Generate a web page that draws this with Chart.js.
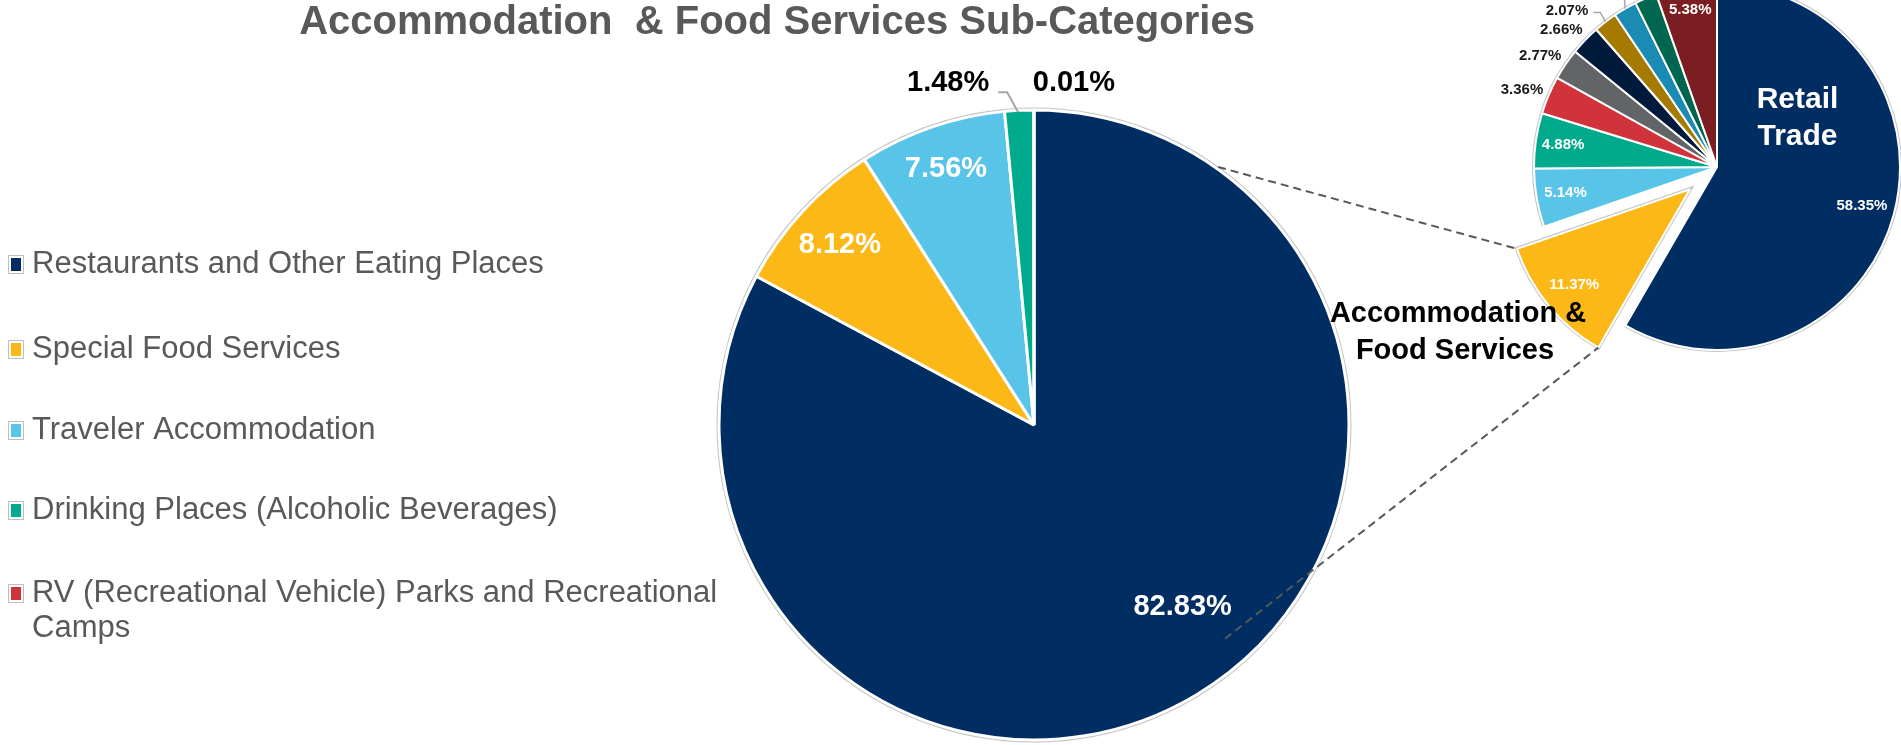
<!DOCTYPE html>
<html><head><meta charset="utf-8">
<script src="https://cdn.jsdelivr.net/npm/chart.js@4.4.1/dist/chart.umd.min.js"></script>
<style>
html,body{margin:0;padding:0;background:#fff;}
#wrap{position:relative;width:1901px;height:745px;overflow:hidden;background:#fff;}
#small{position:absolute;left:1417px;top:-133px;width:600px;height:600px;z-index:1;}
#main{position:absolute;left:0;top:0;width:1901px;height:745px;z-index:2;}
</style></head><body>
<div id="wrap"><canvas id="small" width="600" height="600"></canvas><canvas id="main" width="1901" height="745"></canvas></div>
<script>
const FONT = "'Liberation Sans', Arial, Helvetica, sans-serif";
const titleText = 'Accommodation  & Food Services Sub-Categories';

// Main pie: sub-categories of Accommodation & Food Services
const subCategories = ['Restaurants and Other Eating Places', 'Special Food Services', 'Traveler Accommodation', 'Drinking Places (Alcoholic Beverages)', 'RV (Recreational Vehicle) Parks and Recreational Camps'];
const subShares = [82.83, 8.12, 7.56, 1.48, 0.01];
const subColors = ['#002D62', '#FBB817', '#57C4E8', '#00AA8D', '#D0343A'];

// Small pie: sectors
const sectors = ['Retail Trade', 'Accommodation & Food Services', 'Sector C', 'Sector D', 'Sector E', 'Sector F', 'Sector G', 'Sector H', 'Sector I', 'Sector J', 'Sector K'];
const sectorShares = [58.35, 11.37, 5.14, 4.88, 3.36, 2.77, 2.66, 2.07, 2.06, 1.96, 5.38];
const sectorColors = ['#002D62', '#FBB817', '#57C4E8', '#00AA8D', '#D0343A', '#636466', '#001A3B', '#A67900', '#1A8BB3', '#00664F', '#7A1E22'];
const sectorExplode = [0, 35, 0, 0, 0, 0, 0, 0, 0, 0, 0];

const pct = v => v.toFixed(2) + '%';

function arcPoint(arc, ang, r, dx, dy) {
  return {x: arc.x + Math.cos(ang) * r + (dx || 0), y: arc.y + Math.sin(ang) * r + (dy || 0)};
}

// ---------- small pie ----------
const smallPlugin = {
  id: 'smallDecor',
  beforeDatasetsDraw(chart) {
    const ctx = chart.ctx;
    const meta = chart.getDatasetMeta(0);
    meta.data.forEach((arc, i) => {
      const d = sectorExplode[i];
      const mid = (arc.startAngle + arc.endAngle) / 2;
      const tx = Math.cos(mid) * d, ty = Math.sin(mid) * d;
      if (d && !arc._exploded) {
        const orig = arc.draw;
        arc.draw = function (c) { c.save(); c.translate(tx, ty); orig.call(this, c); c.restore(); };
        arc._exploded = true;
      }
      ctx.save();
      ctx.translate(tx, ty);
      ctx.beginPath();
      if (d) { ctx.moveTo(arc.x, arc.y); }
      ctx.arc(arc.x, arc.y, arc.outerRadius, arc.startAngle, arc.endAngle);
      if (d) ctx.closePath();
      ctx.strokeStyle = '#C4C4C4';
      ctx.lineWidth = 4;
      ctx.stroke();
      ctx.restore();
    });
  },
  afterDatasetsDraw(chart) {
    const ctx = chart.ctx;
    const meta = chart.getDatasetMeta(0);
    const mode = ['in', 'in', 'in', 'in', 'out', 'out', 'out', 'lead', 'up', 'up', 'in'];
    const rf = [0.82, 0.82, 0.84, 0.85, 1.08, 1.08, 1.08, 1.10, 1.0, 1.0, 0.87];
    ctx.save();
    ctx.font = 'bold 15px ' + FONT;
    ctx.textBaseline = 'middle';
    meta.data.forEach((arc, i) => {
      const d = sectorExplode[i];
      const mid = (arc.startAngle + arc.endAngle) / 2;
      const tx = Math.cos(mid) * d, ty = Math.sin(mid) * d;
      const r = arc.outerRadius;
      const txt = pct(sectorShares[i]);
      if (mode[i] === 'in') {
        const p = arcPoint(arc, mid, r * rf[i], tx, ty);
        ctx.fillStyle = '#FFFFFF';
        ctx.textAlign = 'center';
        ctx.fillText(txt, p.x, p.y);
      } else if (mode[i] === 'out') {
        const p = arcPoint(arc, mid, r * rf[i]);
        ctx.fillStyle = '#1A1A1A';
        ctx.textAlign = 'right';
        ctx.fillText(txt, p.x + 8, p.y);
      } else if (mode[i] === 'lead') {
        const e = arcPoint(arc, mid, r);
        const p = arcPoint(arc, mid, r * rf[i]);
        ctx.fillStyle = '#1A1A1A';
        ctx.textAlign = 'right';
        ctx.fillText(txt, p.x - 6, p.y + 3);
        ctx.beginPath();
        ctx.moveTo(p.x - 1, p.y + 5);
        ctx.lineTo(p.x + 6, p.y + 5);
        ctx.lineTo(e.x, e.y);
        ctx.strokeStyle = '#A6A6A6';
        ctx.lineWidth = 1.5;
        ctx.stroke();
      } else {
        const e = arcPoint(arc, mid, r);
        const top = e.y - 60;
        ctx.beginPath();
        ctx.moveTo(e.x, e.y);
        ctx.lineTo(e.x - 4, top);
        ctx.strokeStyle = '#A6A6A6';
        ctx.lineWidth = 1.5;
        ctx.stroke();
        ctx.fillStyle = '#1A1A1A';
        ctx.textAlign = 'center';
        ctx.fillText(txt, e.x - 4, top - 10);
      }
    });
    // category name inside the biggest slice
    const a0 = meta.data[0];
    const words = sectors[0].split(' ');
    ctx.font = 'bold 30px ' + FONT;
    ctx.fillStyle = '#FFFFFF';
    ctx.textAlign = 'center';
    const cx = a0.x + a0.outerRadius * 0.44, cy = a0.y - a0.outerRadius * 0.27;
    ctx.fillText(words[0], cx, cy - 18);
    ctx.fillText(words[1], cx, cy + 19);
    ctx.restore();
  }
};

const small = new Chart(document.getElementById('small'), {
  type: 'pie',
  data: {labels: sectors, datasets: [{data: sectorShares, backgroundColor: sectorColors, borderColor: '#FFFFFF', borderWidth: 2, radius: 183}]},
  options: {responsive: false, animation: false, events: [], radius: 183, layout: {padding: 0},
    plugins: {legend: {display: false}, tooltip: {enabled: false}}},
  plugins: [smallPlugin]
});

// ---------- main pie ----------
const mainPlugin = {
  id: 'mainDecor',
  beforeDatasetsDraw(chart) {
    const ctx = chart.ctx;
    const arc = chart.getDatasetMeta(0).data[0];
    ctx.save();
    ctx.beginPath();
    ctx.arc(arc.x, arc.y, arc.outerRadius, 0, Math.PI * 2);
    ctx.strokeStyle = '#C4C4C4';
    ctx.lineWidth = 5;
    ctx.stroke();
    ctx.restore();
  },
  afterDatasetsDraw(chart) {
    const ctx = chart.ctx;
    const meta = chart.getDatasetMeta(0);
    ctx.save();
    // title
    ctx.font = 'bold 40px ' + FONT;
    ctx.fillStyle = '#595959';
    ctx.textAlign = 'center';
    ctx.textBaseline = 'alphabetic';
    ctx.fillText(titleText, 777, 34);

    // legend
    const legendLines = [[subCategories[0]], [subCategories[1]], [subCategories[2]], [subCategories[3]],
      ['RV (Recreational Vehicle) Parks and Recreational', 'Camps']];
    const rowY = [264, 349, 430, 510, 593];
    ctx.font = '31px ' + FONT;
    ctx.textAlign = 'left';
    ctx.textBaseline = 'middle';
    legendLines.forEach((lines, i) => {
      const y = rowY[i];
      ctx.fillStyle = '#FFFFFF';
      ctx.fillRect(8, y - 9, 16, 19);
      ctx.strokeStyle = '#BFBFBF';
      ctx.lineWidth = 1;
      ctx.strokeRect(8.5, y - 8.5, 15, 18);
      ctx.fillStyle = subColors[i];
      ctx.fillRect(11, y - 6, 10, 13);
      ctx.fillStyle = '#595959';
      lines.forEach((t, k) => ctx.fillText(t, 32, y + k * 35));
    });

    // data labels
    ctx.font = 'bold 29px ' + FONT;
    ctx.textAlign = 'center';
    meta.data.forEach((arc, i) => {
      const mid = (arc.startAngle + arc.endAngle) / 2;
      const txt = pct(subShares[i]);
      if (i === 0) {
        const p = arcPoint(arc, mid - 8.4 * Math.PI / 180, arc.outerRadius * 0.745);
        ctx.fillStyle = '#FFFFFF';
        ctx.fillText(txt, p.x, p.y);
      } else if (i < 3) {
        const p = arcPoint(arc, mid, arc.outerRadius * (i === 1 ? 0.84 : 0.86));
        ctx.fillStyle = '#FFFFFF';
        ctx.fillText(txt, p.x, p.y);
      } else {
        const e = arcPoint(arc, mid, arc.outerRadius);
        ctx.fillStyle = '#000000';
        if (i === 3) {
          ctx.fillText(txt, e.x - 71, e.y - 27);
          ctx.beginPath();
          ctx.moveTo(e.x - 21, e.y - 18);
          ctx.lineTo(e.x - 12, e.y - 18);
          ctx.lineTo(e.x - 1, e.y + 2);
          ctx.strokeStyle = '#A6A6A6';
          ctx.lineWidth = 2;
          ctx.stroke();
        } else {
          ctx.fillText(txt, e.x + 40, e.y - 27);
        }
      }
    });

    // connector lines to the exploded slice of the small pie
    const sArc = small.getDatasetMeta(0).data[1];
    const sc = small.canvas;
    const ox = sc.offsetLeft, oy = sc.offsetTop;
    const sMid = (sArc.startAngle + sArc.endAngle) / 2;
    const ex = Math.cos(sMid) * sectorExplode[1], ey = Math.sin(sMid) * sectorExplode[1];
    const endUp = arcPoint(sArc, sArc.endAngle, sArc.outerRadius, ox + ex, oy + ey);
    const endLow = arcPoint(sArc, sArc.startAngle, sArc.outerRadius, ox + ex, oy + ey);
    const m0 = meta.data[0];
    const startUp = arcPoint(m0, -54.5 * Math.PI / 180, m0.outerRadius + 2);
    const startLow = arcPoint(m0, 48.2 * Math.PI / 180, m0.outerRadius * 0.91);
    ctx.setLineDash([8, 5]);
    ctx.strokeStyle = '#595959';
    ctx.lineWidth = 2;
    ctx.beginPath();
    ctx.moveTo(startUp.x, startUp.y); ctx.lineTo(endUp.x, endUp.y);
    ctx.moveTo(startLow.x, startLow.y); ctx.lineTo(endLow.x, endLow.y);
    ctx.stroke();
    ctx.setLineDash([]);

    // name of the exploded sector
    ctx.font = 'bold 29px ' + FONT;
    ctx.fillStyle = '#000000';
    ctx.textAlign = 'center';
    ctx.fillText('Accommodation &', 1458, 314);
    ctx.fillText('Food Services', 1455, 351);
    ctx.restore();
  }
};

const main = new Chart(document.getElementById('main'), {
  type: 'pie',
  data: {labels: subCategories, datasets: [{data: subShares, backgroundColor: subColors, borderColor: '#FFFFFF', borderWidth: 3, radius: 315}]},
  options: {responsive: false, animation: false, events: [], radius: 315,
    layout: {padding: {left: 167, right: 0, top: 105, bottom: 0}},
    plugins: {legend: {display: false}, tooltip: {enabled: false}}},
  plugins: [mainPlugin]
});
</script>
</body></html>
